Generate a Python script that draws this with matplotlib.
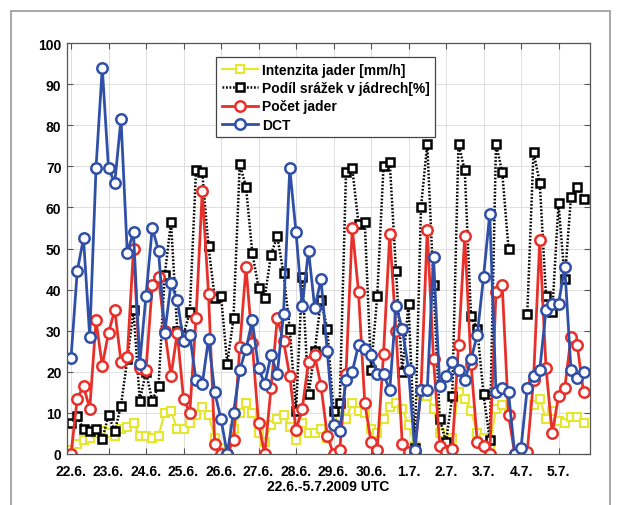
import numpy as np
import matplotlib
matplotlib.use("Agg")
import matplotlib.pyplot as plt
from matplotlib.patches import Rectangle

nan = np.nan

# 4-hourly samples, 22.6. 00 UTC - 5.7. 20 UTC
day_labels = ["22.6.", "23.6.", "24.6.", "25.6.", "26.6.", "27.6.", "28.6.",
              "29.6.", "30.6.", "1.7.", "2.7.", "3.7.", "4.7.", "5.7."]
steps_per_day = 6

intenzita = [1, 2.5, 3.5, 4, 5, 5.5, 5, 4.5, 6, 6.5,
             7.5, 4.5, 4.5, 4, 4.5, 10, 10.5, 6, 6, 7.5,
             9.5, 11.5, 9.5, 4, 1.5, 0.5, 6, 10, 12.5, 10,
             5, 3, 7, 8.5, 9.5, 6.5, 3.5, 7.5, 5, 5,
             6, 4, 7, 9, 8.5, 12.5, 10.5, 10, 6, 5,
             8.5, 11.5, 12.5, 11, 7, 2, 14.5, 14, 11, 5,
             1.5, 4, 15, 13.5, 10.5, 5, 4, 2, 11, 12,
             9.5, nan, nan, nan, 12, 13.5, 8.5, 10.5, 8, 7.5,
             9, 9, 7.5]

podil = [7.5, 9.2, 6, 5.6, 6, 3.6, 9.4, 5.5, 11.8, 23,
         35, 13, 20, 13, 16.5, 43.5, 56.5, 30, 29, 34.5,
         69, 68.5, 50.5, 38, 38.5, 22, 33, 70.5, 65, 49,
         40.5, 38, 48.5, 53, 44, 30.5, 10.5, 43, 14.5, 25,
         37.5, 30.5, 10.5, 12.5, 68.5, 69.5, 56, 56.5, 20.5, 38.5,
         70, 71, 44.5, 20, 36.5, 1.5, 60, 75.5, 41, 8.5,
         3, 14, 75.5, 69, 33.5, 30.5, 14.5, 3.5, 75.5, 68.5,
         50, nan, nan, 34, 73.5, 66, 38.5, 34.5, 61, 42.5,
         62.5, 65, 62]

pocet = [0, 13.5, 16.5, 11, 32.5, 21.5, 29.5, 35, 22.5, 23.5,
         50, 21, 20.5, 41, 43, 30, 19, 29.5, 13.5, 10,
         33, 64, 39, 2.5, 0, 0, 3.5, 26, 45.5, 27,
         7.5, 0, 16, 33, 27.5, 19, 5.8, 11, 22.5, 24,
         16.5, 4.5, 0, 1, 19.5, 55, 39.5, 12.5, 3, 1,
         24.3, 53.5, 30, 2.4, 0.6, 0.6, 15.5, 54.5, 23, 2,
         0.5, 1.2, 26.5, 53, 22, 3, 2, 0, 39.5, 41,
         9.5, 0, 0, 0.5, 18, 52, 21, 5, 14, 16,
         28.5, 26.5, 15]

dct = [23.3, 44.5, 52.5, 28.5, 69.5, 94, 69.5, 66, 81.5, 49,
       54, 22, 38.5, 55, 49.5, 29.5, 41.5, 37.5, 27.5, 29,
       18, 17, 28, 15, 8.5, 0, 10, 20.5, 25.5, 32.5,
       21, 17, 24, 19.5, 34, 69.5, 54, 36, 49.5, 35.5,
       42.5, 25, 7, 5.5, 18, 20, 26.5, 25.5, 24, 19.5,
       19.5, 15.5, 36, 30.5, 20.5, 1, 15.5, 15.5, 48, 16.5,
       19, 22.5, 20.5, 18, 23, 29, 43, 58.5, 15, 16,
       15, 0, 1.5, 16, 19, 20.5, 35, 36.5, 36.5, 45.5,
       20.5, 18.5, 20]

t = np.arange(len(dct))

plt.rcParams["font.family"] = ["Liberation Sans", "DejaVu Sans"]
plt.rcParams["font.weight"] = "bold"

fig = plt.figure(figsize=(6.19, 5.06), dpi=100)
ax = fig.add_axes([67 / 619, 1 - 455 / 506, 523 / 619, 411 / 506])

# thin grey frame round the whole figure
fig.patches.append(Rectangle((11 / 619, -0.02), 599 / 619, 1.02 - 12 / 506,
                             transform=fig.transFigure, fill=False,
                             edgecolor="#9a9a9a", linewidth=1.2))

ax.plot(t, intenzita, color="#e6e62e", lw=1.6, marker="s", ms=5.5,
        mfc="white", mec="#e6e62e", mew=1.5, label="Intenzita jader [mm/h]")
ax.plot(t, podil, color="black", lw=1.8, ls=(0, (0.7, 0.7)), marker="s", ms=5.5,
        mfc="white", mec="black", mew=1.8, label="Podíl srážek v jádrech[%]")
ax.plot(t, pocet, color="#e8302a", lw=2.0, marker="o", ms=7.5,
        mfc="white", mec="#e8302a", mew=1.8, label="Počet jader")
ax.plot(t, dct, color="#3050a8", lw=2.0, marker="o", ms=7.5,
        mfc="white", mec="#3050a8", mew=1.8, label="DCT")

ax.set_xlim(-0.64, 83.04)
ax.set_ylim(0, 100)
ax.set_xticks(np.arange(len(day_labels)) * steps_per_day)
ax.set_xticklabels(day_labels)
ax.set_yticks(np.arange(0, 101, 10))
ax.tick_params(direction="in", top=True, right=True, labelsize=10,
               length=4, width=0.8, color="#555555")
ax.tick_params(axis="x", pad=7)
ax.tick_params(axis="y", pad=4)
ax.grid(True, color="#dedede", lw=0.7)
ax.set_axisbelow(True)
for s in ax.spines.values():
    s.set_color("#555555")
    s.set_linewidth(0.9)

ax.set_xlabel("22.6.-5.7.2009 UTC", fontsize=10, fontweight="bold", labelpad=1)

leg = ax.legend(loc="upper left", bbox_to_anchor=(0.285, 0.966), borderaxespad=0,
                fancybox=False, framealpha=1, edgecolor="#444444", fontsize=10,
                handlelength=2.6, labelspacing=0.32, handletextpad=0.3,
                borderpad=0.4)
leg.get_frame().set_linewidth(0.9)

fig.savefig("out.png", dpi=100)
